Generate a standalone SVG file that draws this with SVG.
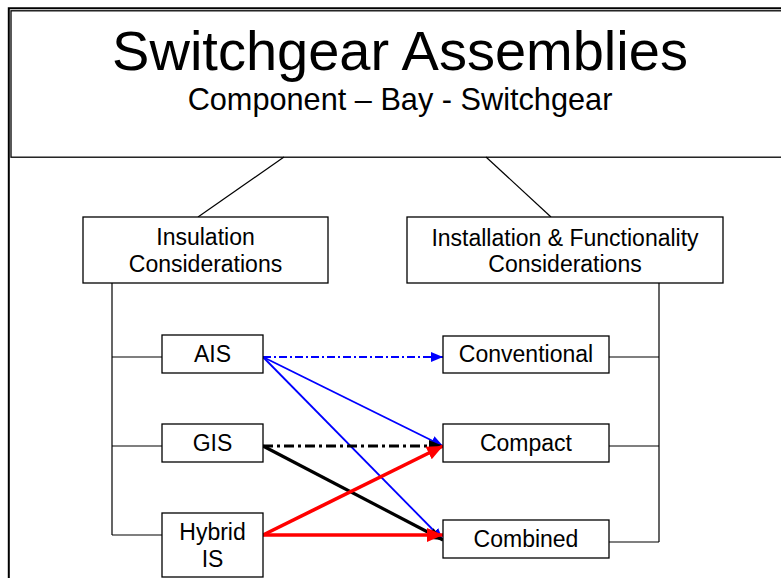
<svg xmlns="http://www.w3.org/2000/svg" width="781" height="578" viewBox="0 0 781 578">
<style>
.box{fill:#fff;stroke:#000;stroke-width:1.3}
.t{font-family:"Liberation Sans",Arial,sans-serif;font-size:23px;fill:#000;text-anchor:middle}
.ln{fill:none;stroke:#000;stroke-width:1.2}
</style>
<defs>
<marker id="hb" markerUnits="userSpaceOnUse" markerWidth="14" markerHeight="12" refX="12" refY="6" orient="auto"><path d="M0,1 L12,6 L0,11 Z" fill="#0000ff"/></marker>
<marker id="hk" markerUnits="userSpaceOnUse" markerWidth="16" markerHeight="14" refX="14" refY="7" orient="auto"><path d="M0,1 L14,7 L0,13 Z" fill="#000"/></marker>
<marker id="hr" markerUnits="userSpaceOnUse" markerWidth="18" markerHeight="16" refX="16" refY="8" orient="auto"><path d="M0,1 L16,8 L0,15 Z" fill="#ff0000"/></marker>
</defs>
<rect width="781" height="578" fill="#fff"/>
<g id="frame">
<path d="M8.8,578 V8.2 H790" fill="none" stroke="#000" stroke-width="2"/>
</g>
<g id="title">
<rect class="box" x="11" y="10.8" width="790" height="146.4"/>
<text x="400" y="70" style="font-family:'Liberation Sans',Arial,sans-serif;font-size:56px;text-anchor:middle">Switchgear Assemblies</text>
<text x="400" y="110" style="font-family:'Liberation Sans',Arial,sans-serif;font-size:30.7px;text-anchor:middle">Component – Bay - Switchgear</text>
</g>
<g id="connectors">
<path class="ln" d="M284,157 L198,217"/>
<path class="ln" d="M486,157 L551,217"/>
<path class="ln" d="M112,283 V535 M112,357 H162 M112,446 H162 M112,535 H162"/>
<path class="ln" d="M659,283 V542 M609,357 H659 M609,446 H659 M609,542 H659"/>
<path d="M263,357 L443,357" fill="none" stroke="#0000ff" stroke-width="2" stroke-dasharray="8,3,2,3" marker-end="url(#hb)"/>
<path d="M263,357 L443,446" fill="none" stroke="#0000ff" stroke-width="1.8" marker-end="url(#hb)"/>
<path d="M263,357 L443,540" fill="none" stroke="#0000ff" stroke-width="1.8" marker-end="url(#hb)"/>
<path d="M263,446 L443,446" fill="none" stroke="#000" stroke-width="3.2" stroke-dasharray="10,4,3,4" marker-end="url(#hk)"/>
<path d="M263,446 L443,540" fill="none" stroke="#000" stroke-width="3.2" marker-end="url(#hk)"/>
<path d="M263,535 L443,446" fill="none" stroke="#ff0000" stroke-width="3.6" marker-end="url(#hr)"/>
<path d="M263,535 L443,535" fill="none" stroke="#ff0000" stroke-width="3.6" marker-end="url(#hr)"/>
</g>
<g id="insulation">
<rect class="box" x="83" y="217" width="245" height="66"/>
<text class="t" x="205.5" y="245">Insulation</text>
<text class="t" x="205.5" y="272">Considerations</text>
</g>
<g id="installation">
<rect class="box" x="407" y="217" width="316" height="66"/>
<text class="t" x="565" y="246">Installation &amp; Functionality</text>
<text class="t" x="565" y="272">Considerations</text>
</g>
<g id="ais">
<rect class="box" x="162" y="335" width="101" height="38"/>
<text class="t" x="212.5" y="362">AIS</text>
</g>
<g id="gis">
<rect class="box" x="162" y="424" width="101" height="38"/>
<text class="t" x="212.5" y="451">GIS</text>
</g>
<g id="hybrid">
<rect class="box" x="162" y="513" width="101" height="64"/>
<text class="t" x="212.5" y="540">Hybrid</text>
<text class="t" x="212.5" y="567">IS</text>
</g>
<g id="conventional">
<rect class="box" x="443" y="336" width="166" height="37"/>
<text class="t" x="526" y="362">Conventional</text>
</g>
<g id="compact">
<rect class="box" x="443" y="424" width="166" height="38"/>
<text class="t" x="526" y="451">Compact</text>
</g>
<g id="combined">
<rect class="box" x="443" y="520" width="166" height="38"/>
<text class="t" x="526" y="547">Combined</text>
</g>
</svg>
